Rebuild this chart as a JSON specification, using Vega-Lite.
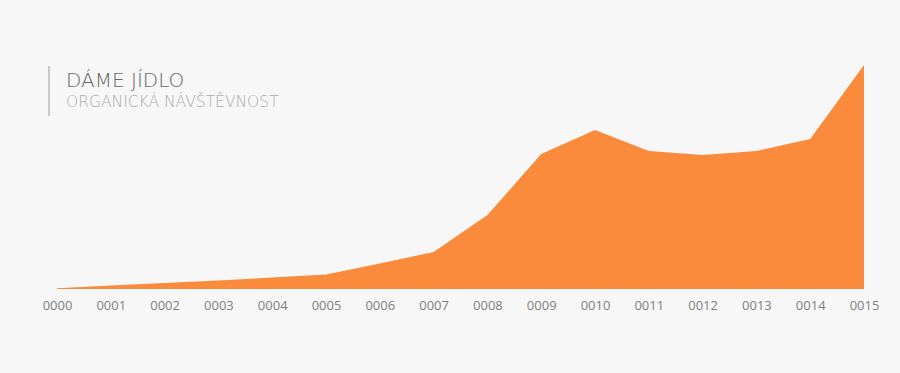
{
  "$schema": "https://vega.github.io/schema/vega-lite/v6.json",
  "width": 807,
  "height": 224,
  "autosize": "none",
  "padding": {"left": 57, "top": 65, "right": 36, "bottom": 84},
  "background": "#f7f7f7",
  "config": {"view": {"stroke": null}},
  "title": {
    "text": "DÁME JÍDLO",
    "subtitle": "ORGANICKÁ NÁVŠTĚVNOST",
    "anchor": "start",
    "frame": "group",
    "orient": "top",
    "offset": -45,
    "dx": 9,
    "font": "DejaVu Sans",
    "fontSize": 20,
    "fontWeight": 200,
    "color": "#666666",
    "subtitleFont": "DejaVu Sans",
    "subtitleFontSize": 15.5,
    "subtitleFontWeight": 200,
    "subtitleColor": "#aaaaaa",
    "subtitlePadding": 4
  },
  "data": {
    "values": [
      {"period": 0, "visits": 0.7},
      {"period": 1, "visits": 3.5},
      {"period": 2, "visits": 6},
      {"period": 3, "visits": 8.5},
      {"period": 4, "visits": 11.5},
      {"period": 5, "visits": 14.5},
      {"period": 6, "visits": 25.5},
      {"period": 7, "visits": 37},
      {"period": 8, "visits": 74},
      {"period": 9, "visits": 135},
      {"period": 10, "visits": 159},
      {"period": 11, "visits": 138},
      {"period": 12, "visits": 134},
      {"period": 13, "visits": 138},
      {"period": 14, "visits": 150},
      {"period": 15, "visits": 224}
    ]
  },
  "layer": [
    {
      "mark": {"type": "area", "color": "#fa8a3c", "opacity": 1},
      "encoding": {
        "x": {
          "field": "period",
          "type": "quantitative",
          "scale": {"domain": [0, 15], "nice": false, "zero": false},
          "axis": {
            "values": [0,1,2,3,4,5,6,7,8,9,10,11,12,13,14,15],
            "labelExpr": "format(datum.value, '04d')",
            "labelFlush": false,
            "labelOverlap": false,
            "domain": false,
            "ticks": false,
            "grid": false,
            "title": null,
            "labelFont": "Open Sans",
            "labelFontSize": 13,
            "labelColor": "#808080",
            "labelPadding": 10
          }
        },
        "y": {
          "field": "visits",
          "type": "quantitative",
          "scale": {"domain": [0, 224], "nice": false},
          "axis": null
        }
      }
    },
    {
      "mark": {"type": "rule", "color": "#c8c8c8", "strokeWidth": 1, "clip": false},
      "encoding": {
        "x": {"datum": -0.149, "type": "quantitative"},
        "y": {"datum": 223, "type": "quantitative"},
        "y2": {"datum": 173}
      }
    }
  ]
}
